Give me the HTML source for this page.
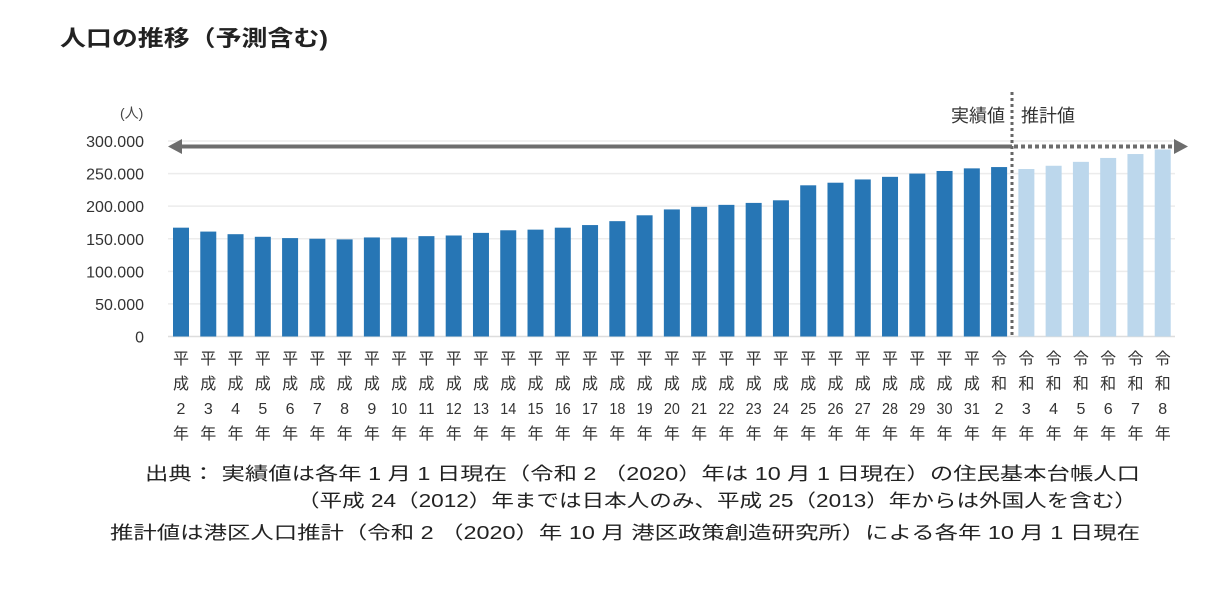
<!DOCTYPE html>
<html><head><meta charset="utf-8">
<style>
html,body{margin:0;padding:0;background:#fff;}
svg{display:block;font-family:"Liberation Sans","Noto Sans CJK JP",sans-serif;}
</style></head>
<body>
<svg id="chart" width="1226" height="598" viewBox="0 0 1226 598">
<text x="60" y="46" font-size="22" font-weight="bold" fill="#222" textLength="268" lengthAdjust="spacingAndGlyphs">人口の推移（予測含む)</text>
<text x="120" y="118" font-size="14" fill="#444">(人)</text>
<g id="grid"></g>
<g id="bars"></g>
<g id="xlabels"></g>
<g id="ylabels"></g>
<line x1="1012" y1="92" x2="1012" y2="337" stroke="#666" stroke-width="3" stroke-dasharray="3,3"/>
<line x1="178" y1="146.5" x2="1012" y2="146.5" stroke="#6d6d6d" stroke-width="4"/>
<polygon points="168,146.5 182,139 182,154" fill="#6d6d6d"/>
<line x1="1014" y1="146.5" x2="1175" y2="146.5" stroke="#6d6d6d" stroke-width="4" stroke-dasharray="4,3"/>
<polygon points="1188,146.5 1174,139 1174,154" fill="#6d6d6d"/>
<text x="1005" y="122" font-size="18" fill="#333" text-anchor="end">実績値</text>
<text x="1021" y="122" font-size="18" fill="#333">推計値</text>
<text x="145" y="480" font-size="18" fill="#222" textLength="995" lengthAdjust="spacingAndGlyphs">出典： 実績値は各年 1 月 1 日現在（令和 2 （2020）年は 10 月 1 日現在）の住民基本台帳人口</text>
<text x="297" y="507" font-size="18" fill="#222" textLength="840" lengthAdjust="spacingAndGlyphs">（平成 24（2012）年までは日本人のみ、平成 25（2013）年からは外国人を含む）</text>
<text x="110" y="539" font-size="18" fill="#222" textLength="1030" lengthAdjust="spacingAndGlyphs">推計値は港区人口推計（令和 2 （2020）年 10 月 港区政策創造研究所）による各年 10 月 1 日現在</text>
</svg>
<script>
const eras = ["平成","平成","平成","平成","平成","平成","平成","平成","平成","平成","平成","平成","平成","平成","平成","平成","平成","平成","平成","平成","平成","平成","平成","平成","平成","平成","平成","平成","平成","平成","令和","令和","令和","令和","令和","令和","令和"];
const years = ["2","3","4","5","6","7","8","9","10","11","12","13","14","15","16","17","18","19","20","21","22","23","24","25","26","27","28","29","30","31","2","3","4","5","6","7","8"];
const values = [167000,161000,157000,153000,151000,150000,149000,152000,152000,154000,155000,159000,163000,164000,167000,171000,177000,186000,195000,199000,202000,205000,209000,232000,236000,241000,245000,250000,254000,258000,260000,257000,262000,268000,274000,280000,287000];
const isEstimate = [0,0,0,0,0,0,0,0,0,0,0,0,0,0,0,0,0,0,0,0,0,0,0,0,0,0,0,0,0,0,0,1,1,1,1,1,1];
const yTicks = [0,50000,100000,150000,200000,250000,300000];
const yTickLabels = ["0","50,000","100,000","150,000","200,000","250,000","300,000"];

const NS="http://www.w3.org/2000/svg";
const y0=336.5, pxPer=195.5/300000;
const yScale=v=>y0-v*pxPer;
const x0=181, pitch=27.27, bw=16;
const xScale=i=>x0+i*pitch;
function mk(tag,attrs,parent){const e=document.createElementNS(NS,tag);for(const k in attrs)e.setAttribute(k,attrs[k]);parent.appendChild(e);return e;}
const grid=document.getElementById('grid'),bars=document.getElementById('bars'),xl=document.getElementById('xlabels'),yl=document.getElementById('ylabels');
yTicks.forEach((t,i)=>{
  const l=mk('line',{x1:168,x2:1175,y1:yScale(t),y2:yScale(t),stroke:i===0?'#ddd':'#ececec','stroke-width':1.5},grid);
  
  
  const tx=mk('text',{x:144,y:yScale(t)+6,'font-size':16,fill:'#333','text-anchor':'end'},yl);
  tx.textContent=yTickLabels[i].replace(',', '.');
  
  
});
values.forEach((v,i)=>{
  const r=mk('rect',{x:xScale(i)-bw/2,y:yScale(v),width:bw,height:y0-yScale(v),fill:isEstimate[i]?'#bcd7ec':'#2776b5'},bars);
  
  
  const g=mk('g',{},xl);
  
  
  const chars=[eras[i][0],eras[i][1],years[i],'年'];
  const ys=[364,389,414,439];
  chars.forEach((c,k)=>{
    const t=mk('text',{x:xScale(i),y:ys[k],'font-size':16,fill:'#333','text-anchor':'middle'},g);
    if(c.length>1){t.setAttribute('textLength',16);t.setAttribute('lengthAdjust','spacingAndGlyphs');}
    t.textContent=c;
  });
});
</script>
</body></html>
